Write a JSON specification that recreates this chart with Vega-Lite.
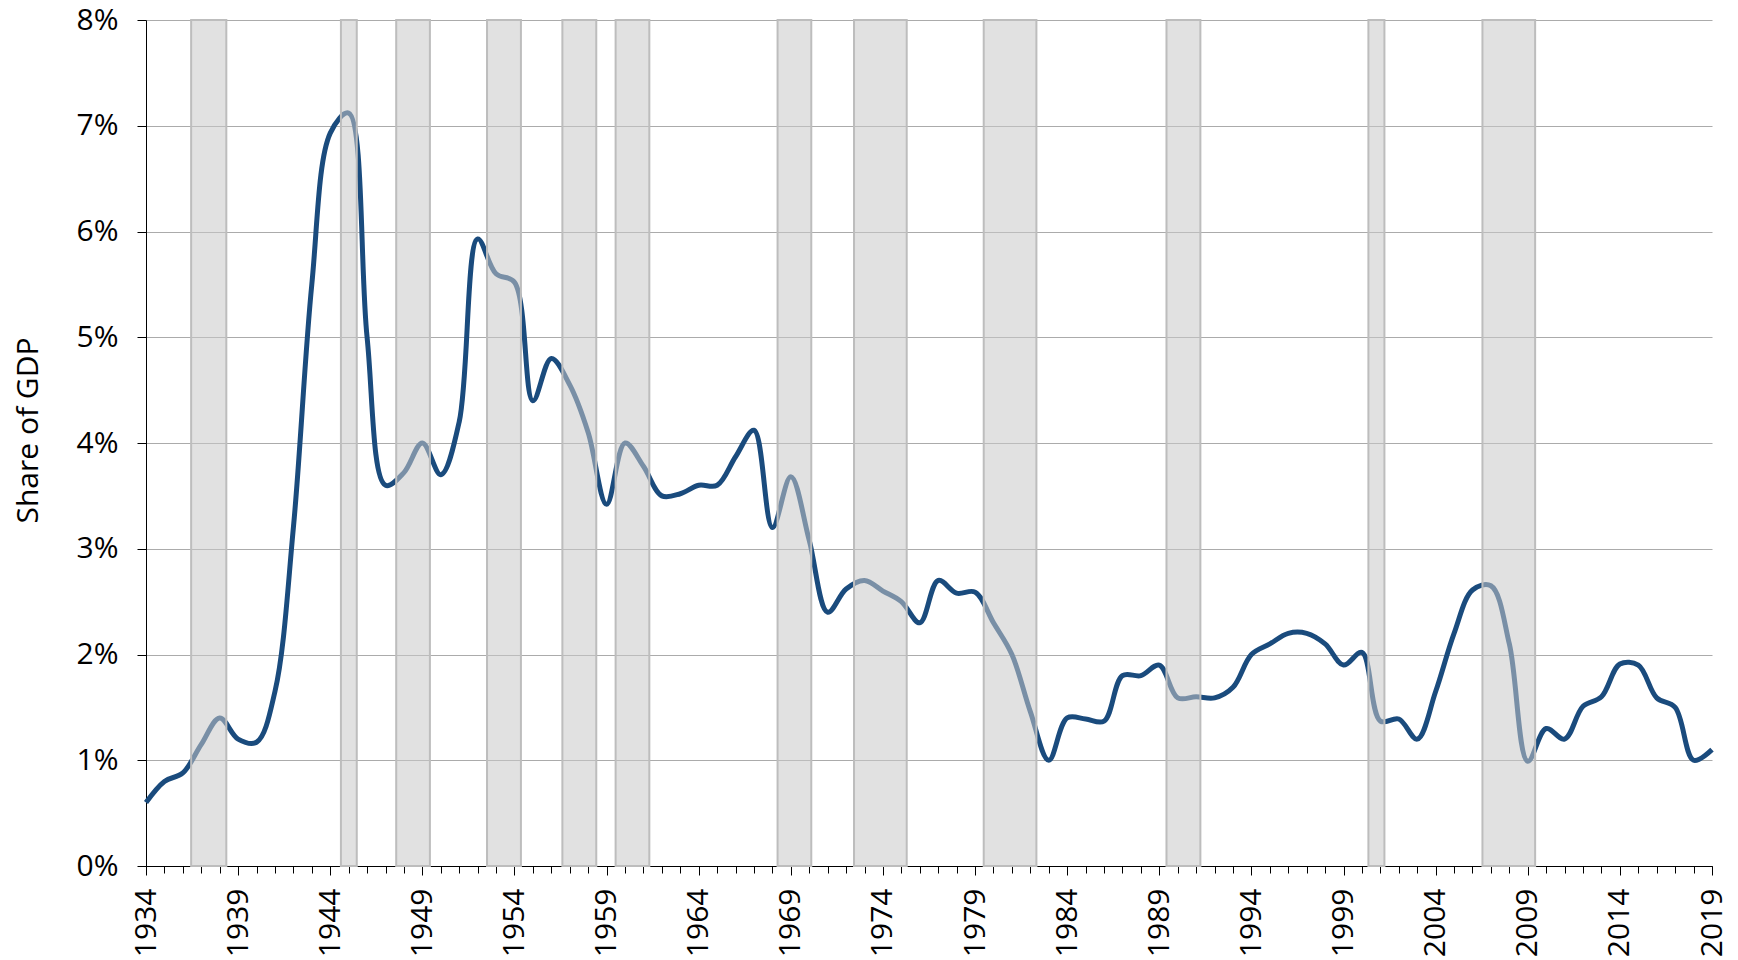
{
  "$schema": "https://vega.github.io/schema/vega-lite/v6.json",
  "width": 1566,
  "height": 846,
  "autosize": "none",
  "padding": {"left": 146, "top": 20, "right": 26, "bottom": 94},
  "background": "white",
  "config": {
    "view": {"stroke": null},
    "font": "Open Sans",
    "axis": {"labelFont": "Open Sans", "titleFont": "Open Sans", "labelColor": "black", "titleColor": "black", "domainColor": "black", "tickColor": "black"}
  },
  "datasets": {
    "series": [
      {"year": 1934, "share": 0.60}, {"year": 1935, "share": 0.80}, {"year": 1936, "share": 0.88},
      {"year": 1937, "share": 1.15}, {"year": 1938, "share": 1.40}, {"year": 1939, "share": 1.20},
      {"year": 1940, "share": 1.17}, {"year": 1941, "share": 1.65}, {"year": 1942, "share": 3.20},
      {"year": 1943, "share": 5.50}, {"year": 1944, "share": 6.93}, {"year": 1945, "share": 7.12},
      {"year": 1946, "share": 5.00}, {"year": 1947, "share": 3.60}, {"year": 1948, "share": 3.72},
      {"year": 1949, "share": 4.00}, {"year": 1950, "share": 3.70}, {"year": 1951, "share": 4.20},
      {"year": 1952, "share": 5.93}, {"year": 1953, "share": 5.60}, {"year": 1954, "share": 5.52},
      {"year": 1955, "share": 4.40}, {"year": 1956, "share": 4.80}, {"year": 1957, "share": 4.55},
      {"year": 1958, "share": 4.10}, {"year": 1959, "share": 3.42}, {"year": 1960, "share": 4.00},
      {"year": 1961, "share": 3.78}, {"year": 1962, "share": 3.50}, {"year": 1963, "share": 3.52},
      {"year": 1964, "share": 3.60}, {"year": 1965, "share": 3.60}, {"year": 1966, "share": 3.87},
      {"year": 1967, "share": 4.12}, {"year": 1968, "share": 3.20}, {"year": 1969, "share": 3.68},
      {"year": 1970, "share": 3.08}, {"year": 1971, "share": 2.40}, {"year": 1972, "share": 2.62},
      {"year": 1973, "share": 2.70}, {"year": 1974, "share": 2.60}, {"year": 1975, "share": 2.50},
      {"year": 1976, "share": 2.30}, {"year": 1977, "share": 2.70}, {"year": 1978, "share": 2.58},
      {"year": 1979, "share": 2.59}, {"year": 1980, "share": 2.30}, {"year": 1981, "share": 2.00},
      {"year": 1982, "share": 1.46}, {"year": 1983, "share": 1.00}, {"year": 1984, "share": 1.40},
      {"year": 1985, "share": 1.39}, {"year": 1986, "share": 1.37}, {"year": 1987, "share": 1.80},
      {"year": 1988, "share": 1.80}, {"year": 1989, "share": 1.90}, {"year": 1990, "share": 1.59},
      {"year": 1991, "share": 1.60}, {"year": 1992, "share": 1.59}, {"year": 1993, "share": 1.69},
      {"year": 1994, "share": 2.00}, {"year": 1995, "share": 2.10}, {"year": 1996, "share": 2.20},
      {"year": 1997, "share": 2.20}, {"year": 1998, "share": 2.10}, {"year": 1999, "share": 1.90},
      {"year": 2000, "share": 2.02}, {"year": 2001, "share": 1.37}, {"year": 2002, "share": 1.39},
      {"year": 2003, "share": 1.20}, {"year": 2004, "share": 1.65}, {"year": 2005, "share": 2.20},
      {"year": 2006, "share": 2.61}, {"year": 2007, "share": 2.65}, {"year": 2008, "share": 2.10},
      {"year": 2009, "share": 0.99}, {"year": 2010, "share": 1.30}, {"year": 2011, "share": 1.20},
      {"year": 2012, "share": 1.51}, {"year": 2013, "share": 1.60}, {"year": 2014, "share": 1.91},
      {"year": 2015, "share": 1.90}, {"year": 2016, "share": 1.59}, {"year": 2017, "share": 1.50},
      {"year": 2018, "share": 1.00}, {"year": 2019, "share": 1.10}
    ],
    "recessions": [
      {"start": 1936.45, "end": 1938.36},
      {"start": 1944.58, "end": 1945.44},
      {"start": 1947.58, "end": 1949.41},
      {"start": 1952.51, "end": 1954.35},
      {"start": 1956.6, "end": 1958.44},
      {"start": 1959.49, "end": 1961.32},
      {"start": 1968.28, "end": 1970.11},
      {"start": 1972.43, "end": 1975.29},
      {"start": 1979.47, "end": 1982.33},
      {"start": 1989.39, "end": 1991.23},
      {"start": 2000.35, "end": 2001.22},
      {"start": 2006.54, "end": 2009.4}
    ]
  },
  "resolve": {"axis": {"x": "independent", "y": "independent"}},
  "layer": [
    {
      "data": {"name": "series"},
      "mark": {"type": "line", "interpolate": "catmull-rom", "color": "#1a4b7d", "strokeWidth": 5},
      "encoding": {
        "x": {
          "field": "year", "type": "quantitative",
          "scale": {"domain": [1934, 2019], "nice": false, "zero": false},
          "axis": {
            "orient": "bottom", "title": null,
            "values": [1934, 1939, 1944, 1949, 1954, 1959, 1964, 1969, 1974, 1979, 1984, 1989, 1994, 1999, 2004, 2009, 2014, 2019],
            "format": "d", "labelAngle": -90, "labelFontSize": 30, "labelPadding": 13,
            "tickSize": 9, "tickWidth": 1, "domain": true, "domainWidth": 1, "grid": false,
            "labelOverlap": false, "labelFlush": false
          }
        },
        "y": {
          "field": "share", "type": "quantitative",
          "scale": {"domain": [0, 8], "nice": false},
          "axis": {
            "orient": "left",
            "title": "Share of GDP", "titleFontSize": 30, "titleFontWeight": "normal",
            "titleAngle": -90, "titleX": -109, "titleY": 410, "titleAlign": "center", "titleBaseline": "alphabetic",
            "values": [0, 1, 2, 3, 4, 5, 6, 7, 8],
            "labelExpr": "datum.value + '%'", "labelFontSize": 30, "labelPadding": 19,
            "tickSize": 9, "tickWidth": 1, "domainWidth": 1,
            "grid": true, "gridColor": "#ababab", "gridWidth": 1.2
          }
        }
      }
    },
    {
      "data": {"name": "recessions"},
      "mark": {"type": "rect", "fill": "#c8c8c8", "fillOpacity": 0.55, "stroke": "#bdbdbd", "strokeWidth": 2},
      "encoding": {
        "x": {
          "field": "start", "type": "quantitative",
          "axis": {
            "orient": "bottom", "title": null,
            "values": [1934, 1935, 1936, 1937, 1938, 1939, 1940, 1941, 1942, 1943, 1944, 1945, 1946, 1947, 1948, 1949, 1950, 1951, 1952, 1953, 1954, 1955, 1956, 1957, 1958, 1959, 1960, 1961, 1962, 1963, 1964, 1965, 1966, 1967, 1968, 1969, 1970, 1971, 1972, 1973, 1974, 1975, 1976, 1977, 1978, 1979, 1980, 1981, 1982, 1983, 1984, 1985, 1986, 1987, 1988, 1989, 1990, 1991, 1992, 1993, 1994, 1995, 1996, 1997, 1998, 1999, 2000, 2001, 2002, 2003, 2004, 2005, 2006, 2007, 2008, 2009, 2010, 2011, 2012, 2013, 2014, 2015, 2016, 2017, 2018, 2019],
            "labels": false, "tickSize": 7, "tickWidth": 1, "domain": false, "grid": false
          }
        },
        "x2": {"field": "end"},
        "y": {"datum": 0, "type": "quantitative", "axis": null},
        "y2": {"datum": 8}
      }
    }
  ]
}
